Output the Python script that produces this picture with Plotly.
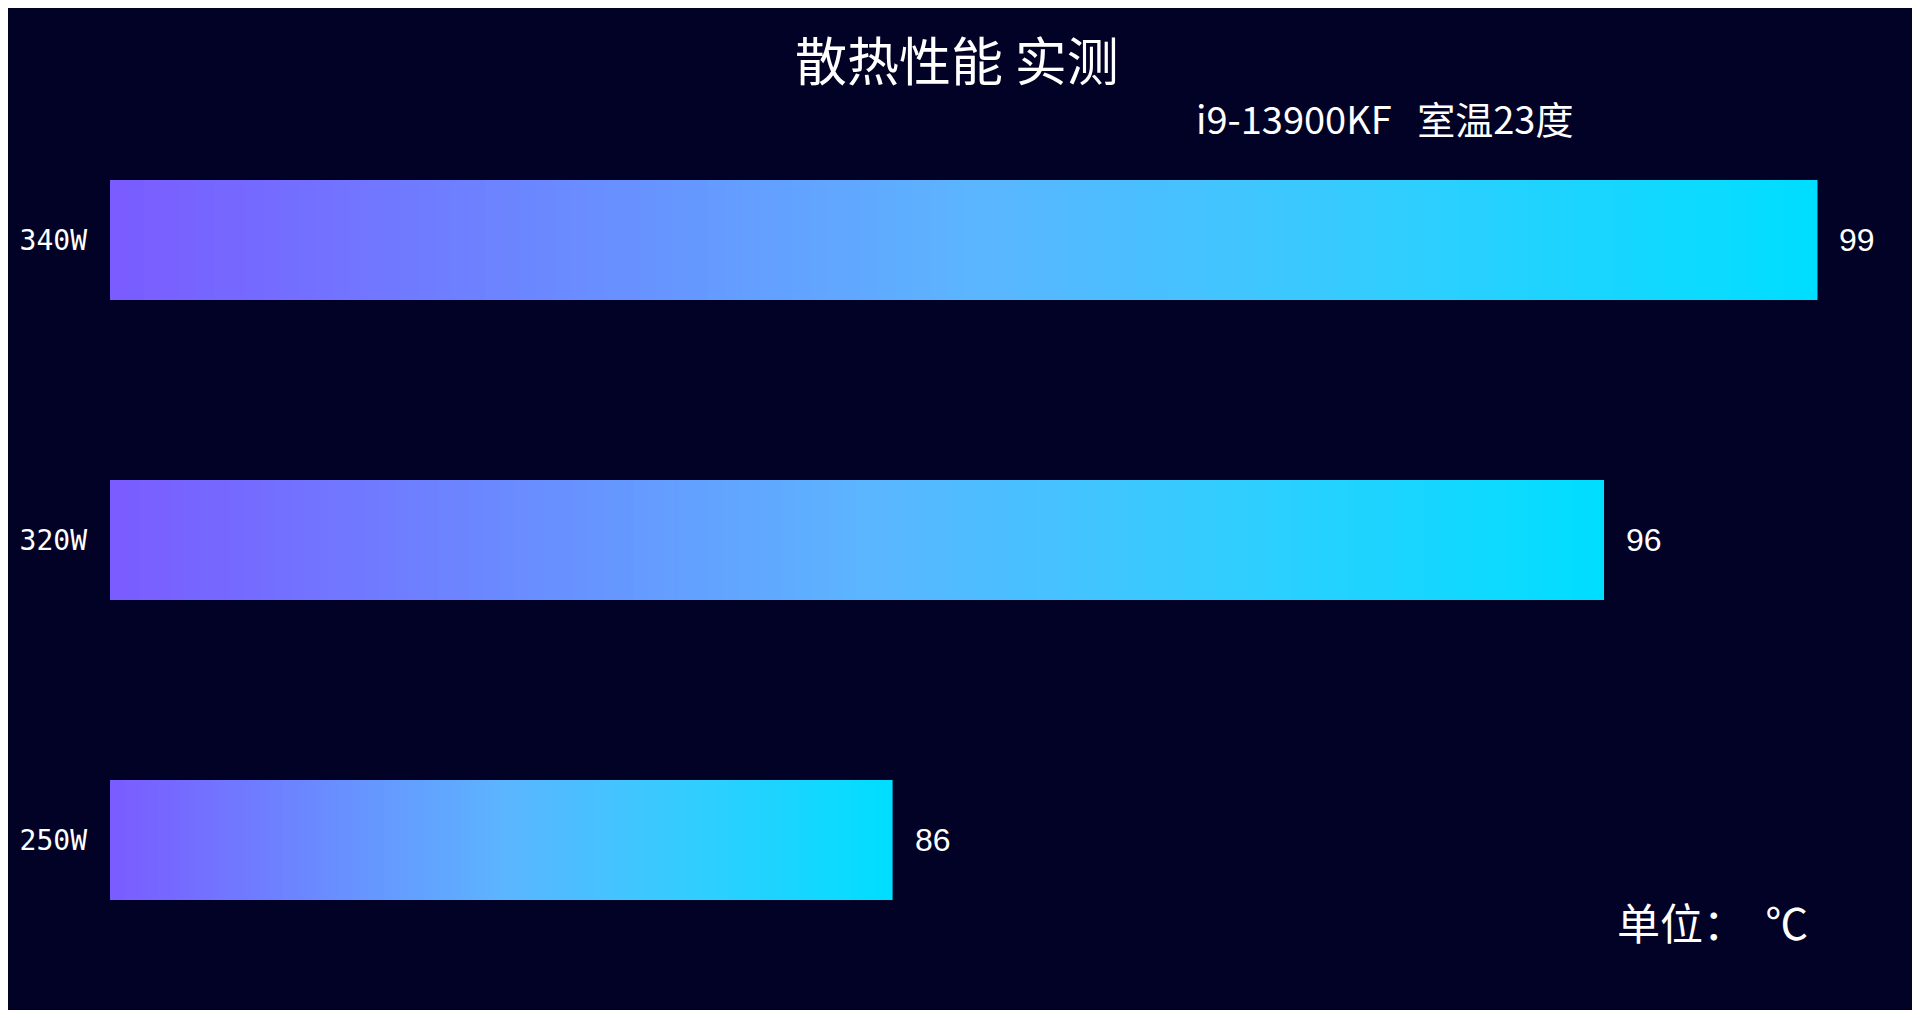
import plotly.graph_objects as go

# 散热性能 data (°C)
categories = ["340W", "320W", "250W"]
temps = [99, 96, 86]
x_min = 75

title_text = "散热性能 实测"
subtitle_text = "i9-13900KF\u00a0\u00a0\u00a0室温23度"
unit_text = "单位：\u00a0 ℃"

# gradient stops (position, rgb), left -> right
stops = [
    (0.0, (122, 92, 255)),
    (0.5, (92, 180, 255)),
    (0.75, (50, 205, 255)),
    (1.0, (0, 222, 255)),
]


def grad_color(t):
    for (p0, a), (p1, b) in zip(stops[:-1], stops[1:]):
        if t <= p1:
            f = (t - p0) / (p1 - p0)
            c = [round(a[k] + (b[k] - a[k]) * f) for k in range(3)]
            return "rgb(%d,%d,%d)" % tuple(c)
    return "rgb(%d,%d,%d)" % stops[-1][1]


fig = go.Figure()

# each bar is split into thin slices so it can carry a horizontal gradient
n_slices = 100
for i in range(n_slices):
    widths = [(v - x_min) / n_slices for v in temps]
    bases = [x_min + i * w for w in widths]
    fig.add_trace(go.Bar(
        y=categories,
        x=[w * 1.6 if i < n_slices - 1 else w for w in widths],
        base=bases,
        orientation="h",
        marker=dict(color=grad_color(i / (n_slices - 1)), line=dict(width=0)),
        hoverinfo="skip",
        showlegend=False,
    ))

for cat, v in zip(categories, temps):
    fig.add_annotation(
        x=v, y=cat, text=str(v), showarrow=False,
        xanchor="left", xshift=20,
        font=dict(family="Liberation Sans, Arial", size=32, color="white"),
    )

# the page sits 8px in from the top-left, so the plot area is placed
# to land at x 107..1900 and y 90..990 of the screenshot
plot_w = 1793
fig.add_annotation(
    xref="paper", yref="paper", x=(955 - 107) / plot_w, y=1, yshift=32,
    text=title_text, showarrow=False, xanchor="center", yanchor="middle",
    font=dict(family="Noto Sans CJK SC", size=52, color="white"),
)
fig.add_annotation(
    xref="paper", yref="paper", x=(1384 - 107) / plot_w, y=1, yshift=-27,
    text=subtitle_text, showarrow=False, xanchor="center", yanchor="middle",
    font=dict(family="Noto Sans CJK SC", size=38, color="white"),
)
fig.add_annotation(
    xref="paper", yref="paper", x=(1712 - 107) / plot_w, y=0, yshift=69,
    text=unit_text, showarrow=False, xanchor="center", yanchor="middle",
    font=dict(family="Noto Sans CJK SC", size=43, color="white"),
)

fig.update_layout(
    width=1904, height=1002,
    paper_bgcolor="#020226", plot_bgcolor="#020226",
    barmode="overlay", bargap=0.6,
    margin=dict(l=99, r=12, t=82, b=20),
    xaxis=dict(range=[x_min, 100.16], visible=False, fixedrange=True),
    yaxis=dict(
        categoryorder="array", categoryarray=categories[::-1],
        showgrid=False, zeroline=False, showline=False, ticks="",
        ticklabelstandoff=22,
        tickfont=dict(family="DejaVu Sans Mono", size=28, color="white"),
    ),
)

fig.write_html("out.html")
